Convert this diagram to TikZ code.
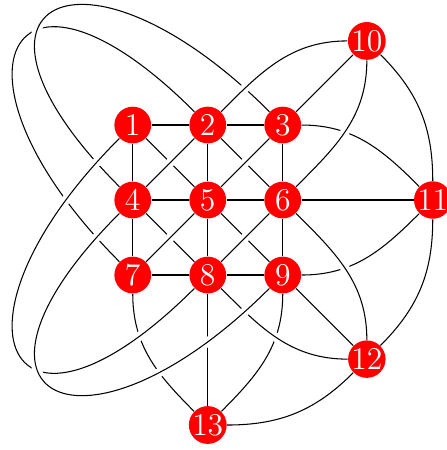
\documentclass[tikz,border=0pt]{standalone}
\usepackage{tikz}
\usetikzlibrary{backgrounds}
\begin{document}
\begin{tikzpicture}[
  font=\large,
  pt/.style={circle, fill=red, text=white, inner sep=0pt, minimum size=0.49cm},
  link/.style={preaction={draw=white, line width=3.4pt}}
]
\useasboundingbox (-2.77,-3.333) rectangle (3.19,2.667);
% affine points
\node[pt] (n1) at (-1,1) {1};
\node[pt] (n2) at (0,1) {2};
\node[pt] (n3) at (1,1) {3};
\node[pt] (n4) at (-1,0) {4};
\node[pt] (n5) at (0,0) {5};
\node[pt] (n6) at (1,0) {6};
\node[pt] (n7) at (-1,-1) {7};
\node[pt] (n8) at (0,-1) {8};
\node[pt] (n9) at (1,-1) {9};
% points at infinity
\node[pt] (n10) at (45:3) {10};
\node[pt] (n11) at (0:3) {11};
\node[pt] (n12) at (-45:3) {12};
\node[pt] (n13) at (-90:3) {13};

\begin{scope}[on background layer]
% straight lines
\draw[link] (n1) -- (n2) -- (n3);
\draw[link] (n4) -- (n5) -- (n6) -- (n11);
\draw[link] (n7) -- (n8) -- (n9);
\draw[link] (n1) -- (n4) -- (n7);
\draw[link] (n2) -- (n5) -- (n8) -- (n13);
\draw[link] (n3) -- (n6) -- (n9);
\draw[link] (n1) -- (n5) -- (n9) -- (n12);
\draw[link] (n2) -- (n6);
\draw[link] (n4) -- (n8);
\draw[link] (n7) -- (n5) -- (n3) -- (n10);
\draw[link] (n4) -- (n2);
\draw[link] (n8) -- (n6);

% curved lines
\draw[link] (n2) to[out=135, in=135, looseness=4] (n7);
\draw[link] (n3) to[out=135, in=135, looseness=4] (n4);
\draw[link] (n2) to[out=45, in=180] (n10);
\draw[link] (n7) to[out=-90, in=135] (n13);
\draw[link] (n1) to[out=225, in=225, looseness=4] (n8);
\draw[link] (n9) to[out=-90, in=45] (n13);
\draw[link] (n8) to[out=-45, in=180] (n12);
\draw[link] (n4) to[out=225, in=225, looseness=4] (n9);
\draw[link] (n3) to[out=0, in=135] (n11);
\draw[link] (n6) to[out=45, in=270] (n10);
\draw[link] (n9) to[out=0, in=225] (n11);
\draw[link] (n6) to[out=-45, in=90] (n12);

% line at infinity
\draw[link] (n10) to[bend left=22.5] (n11);
\draw[link] (n11) to[bend left=22.5] (n12);
\draw[link] (n12) to[bend left=22.5] (n13);
\end{scope}
\end{tikzpicture}
\end{document}
